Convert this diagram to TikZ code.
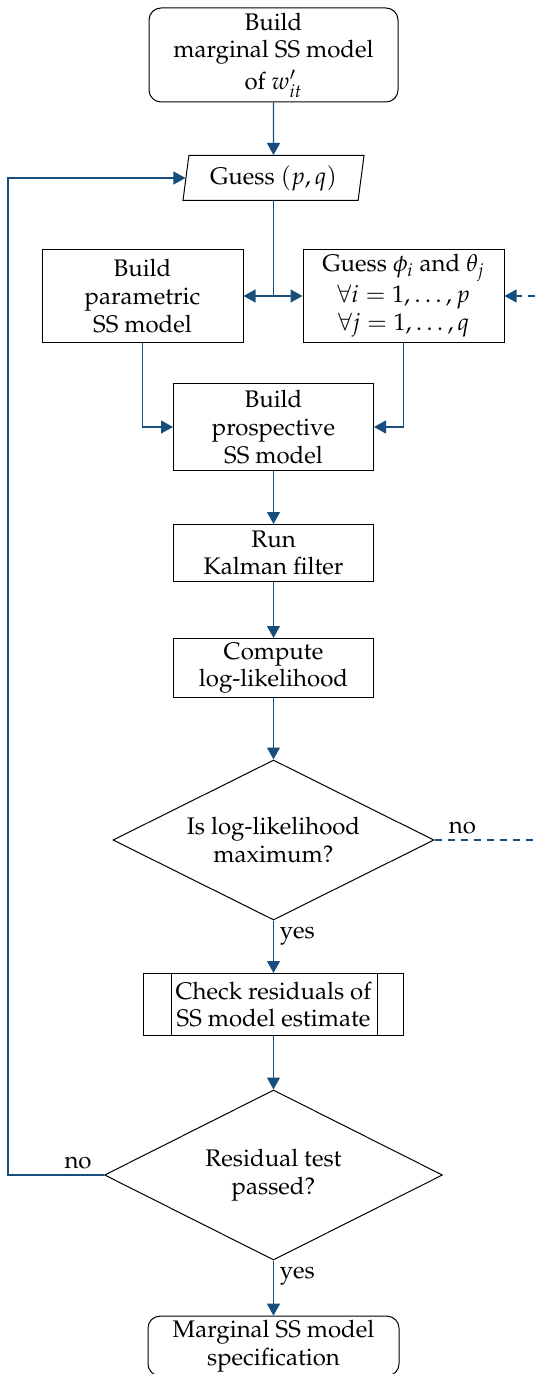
\documentclass[tikz,border=0pt]{standalone}
\usepackage[T1]{fontenc}
\usepackage{mathpazo}
\usetikzlibrary{shapes.geometric,arrows.meta,calc}
\definecolor{flowblue}{RGB}{24,78,126}
\tikzset{
  txt/.style={font=\fontsize{12}{13.8}\selectfont},
  base/.style={txt, draw=black, line width=0.5pt, align=center, inner sep=2pt},
  term/.style={base, rectangle, rounded corners=6pt},
  proc/.style={base, rectangle},
  io/.style={base, trapezium, trapezium left angle=80, trapezium right angle=100,
             trapezium stretches body},
  decide/.style={base, diamond, shape aspect=2, inner sep=0pt},
  conn/.style={draw=flowblue, line width=0.55pt},
  arr/.style={conn, -{Triangle[length=6pt,width=6.5pt]}},
  lbl/.style={txt, inner sep=0pt}
}
\begin{document}
\begin{tikzpicture}[x=0.5pt,y=-0.5pt]
\useasboundingbox (0,0) rectangle (535,1374);

% blocks
\node[term, minimum width=124.5pt, minimum height=47pt] (start) at (273.5,55)
  {Build\\marginal SS model\\[2pt]of $w'_{it}$};
\node[io, minimum width=90.5pt, minimum height=22.5pt] (guess) at (273.5,178)
  {Guess $(p,q)$};
\node[proc, minimum width=100.5pt, minimum height=46pt] (param) at (142.5,296)
  {Build\\parametric\\SS model};
\node[proc, minimum width=100.5pt, minimum height=46pt] (phi) at (403.5,296)
  {Guess $\phi_i$ and $\theta_j$\\[1.5pt]$\forall i = 1,\ldots,p$\\[0.5pt]$\forall j = 1,\ldots,q$};
\node[proc, minimum width=100pt, minimum height=43.5pt] (prosp) at (273.5,427)
  {Build\\prospective\\SS model};
\node[proc, minimum width=100pt, minimum height=28.5pt] (kalman) at (273.5,553)
  {Run\\Kalman filter};
\node[proc, minimum width=100pt, minimum height=28.5pt] (loglik) at (273.5,668)
  {Compute\\log-likelihood};
\node[decide, minimum width=160.5pt, minimum height=80pt] (max) at (273.5,840)
  {Is log-likelihood\\maximum?};
\node[proc, minimum width=130pt, minimum height=31pt] (check) at (273.5,1004.5)
  {Check residuals of\\SS model estimate};
\draw[line width=0.5pt] ([xshift=14pt]check.north west) -- ([xshift=14pt]check.south west)
  ([xshift=-13.5pt]check.north east) -- ([xshift=-13.5pt]check.south east);
\node[decide, minimum width=169pt, minimum height=85pt] (pass) at (273.5,1175)
  {Residual test\\passed?};
\node[term, minimum width=125.5pt, minimum height=28pt] (stop) at (273.5,1346)
  {Marginal SS model\\specification};

% helper points
\coordinate (split) at (guess.south |- param.east);
\coordinate (rightin) at (535,296);
\coordinate (rightout) at (535,840);
\coordinate (leftrail) at (8,1175);

% connectors
\draw[arr] (start) -- (guess);
\draw[conn] (guess.south) -- (split);
\draw[arr] (split) -- (param.east);
\draw[arr] (split) -- (phi.west);
\draw[arr, dashed, dash pattern=on 3.5pt off 3pt] (rightin) -- (phi.east);
\draw[arr] (param.south) |- (prosp.west);
\draw[arr] (phi.south) |- (prosp.east);
\draw[arr] (prosp) -- (kalman);
\draw[arr] (kalman) -- (loglik);
\draw[arr] (loglik) -- (max);
\draw[conn, dashed, dash pattern=on 3.5pt off 3pt] (max.east) -- (rightout);
\node[lbl, anchor=south west] (no1) at ([xshift=7pt,yshift=3pt]max.east) {no};
\draw[arr] (max) -- (check);
\node[lbl, anchor=north west] (yes1) at ([xshift=3pt,yshift=-3pt]max.south) {yes};
\draw[arr] (check) -- (pass);
\draw[arr] (pass.west) -- (leftrail) |- (guess.west);
\node[lbl, anchor=south east] (no2) at ([xshift=-6pt,yshift=3pt]pass.west) {no};
\draw[arr] (pass) -- (stop);
\node[lbl, anchor=north west] (yes2) at ([xshift=3pt,yshift=-3pt]pass.south) {yes};
\end{tikzpicture}
\end{document}
